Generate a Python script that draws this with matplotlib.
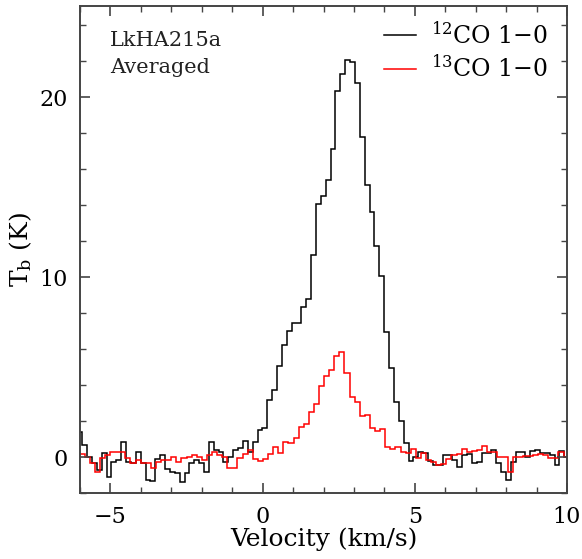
import numpy as np
import matplotlib
matplotlib.use("Agg")
import matplotlib.pyplot as plt

plt.rcParams["font.family"] = "DejaVu Serif"
plt.rcParams["mathtext.fontset"] = "dejavuserif"

# 12CO 1-0 spectrum: first channel edge, channel width (km/s), Tb per channel (K)
v0_12co = -6.087
dv_12co = 0.16
tb_12co = [
    1.41, 0.67, 0.02, -0.35, -0.72, 0.20, -1.09, -0.26, -0.17, 0.81,
    -0.26, -0.35, 0.30, -0.35, -1.28, -1.31, -0.13, 0.11, -0.67, -0.81,
    -0.91, -1.37, -0.91, -0.35, -0.17, -0.35, -0.81, 0.81, 0.39, 0.30,
    -0.26, 0.02, 0.39, 0.48, 0.91, 0.30, 0.85, 1.50, 1.59, 3.17,
    3.72, 5.06, 6.20, 7.00, 7.46, 7.46, 8.35, 8.76, 11.20, 14.05,
    14.50, 15.40, 17.10, 20.35, 21.30, 22.05, 21.96, 20.76, 17.76, 15.10,
    13.60, 11.70, 10.06, 6.93, 4.93, 3.07, 2.02, 0.80, -0.20, 0.00,
    0.26, 0.20, -0.20, -0.44, -0.44, 0.11, 0.11, -0.17, -0.54, 0.11,
    0.15, -0.35, -0.26, 0.24, 0.24, 0.39, -0.35, -0.81, -1.28, -0.26,
    0.26, 0.30, 0.02, 0.35, 0.39, 0.20, 0.20, 0.11, -0.44, 0.33,
    0.02,
]

# 13CO 1-0 spectrum
v0_13co = -6.016
dv_13co = 0.1674
tb_13co = [
    0.17, 0.02, -0.35, -0.81, -0.07, 0.11, 0.30, 0.30, 0.30, -0.07,
    -0.35, -0.17, -0.35, -0.35, -0.63, -0.26, -0.17, -0.17, 0.02, -0.26,
    -0.07, 0.02, 0.11, 0.02, -0.17, 0.11, 0.30, 0.11, 0.02, -0.63,
    -0.63, -0.07, 0.17, 0.39, -0.13, -0.20, -0.13, 0.15, 0.57, 0.20,
    0.82, 0.76, 1.04, 1.67, 1.82, 2.52, 2.94, 3.95, 4.48, 4.83,
    5.62, 5.85, 4.69, 3.35, 3.07, 2.28, 2.33, 1.59, 1.46, 1.57,
    0.55, 0.46, 0.54, 0.30, 0.24, 0.44, -0.07, 0.20, -0.17, -0.26,
    -0.44, -0.40, -0.13, 0.11, 0.17, 0.43, 0.30, 0.35, 0.39, 0.61,
    0.30, 0.30, 0.02, 0.02, -0.81, 0.02, 0.02, 0.06, 0.06, 0.11,
    0.17, 0.11, -0.07, -0.07, 0.30, 0.02,
]

edges_12co = v0_12co + dv_12co * np.arange(len(tb_12co) + 1)
edges_13co = v0_13co + dv_13co * np.arange(len(tb_13co) + 1)

fig = plt.figure(figsize=(5.82, 5.59), dpi=100)
ax = fig.add_axes([0.1375, 0.118, 0.8367, 0.871])

ax.stairs(tb_12co, edges_12co, baseline=None, color="black", lw=1.1,
          label=r"$^{12}$CO 1−0")
ax.stairs(tb_13co, edges_13co, baseline=None, color="red", lw=1.1,
          label=r"$^{13}$CO 1−0")

ax.set_xlim(-6, 10)
ax.set_ylim(-2.0, 25.05)
ax.set_xticks([-5, 0, 5, 10])
ax.set_xticks(np.arange(-6, 11, 1), minor=True)
ax.set_yticks([0, 10, 20])
ax.set_yticks(np.arange(-2, 25, 2), minor=True)
ax.tick_params(which="both", direction="in", top=True, right=True,
               color="#444444", labelsize=16)
ax.tick_params(which="major", length=7, width=1.2, pad=9)
ax.tick_params(which="minor", length=4.5, width=1.0)
for spine in ax.spines.values():
    spine.set_edgecolor("#444444")
    spine.set_linewidth(1.4)

ax.set_xlabel("Velocity (km/s)", fontsize=18, labelpad=0)
ax.set_ylabel(r"T$_{\rm b}$ (K)", fontsize=18, labelpad=4)

ax.text(0.062, 0.93, "LkHA215a", transform=ax.transAxes, fontsize=15,
        va="center", ha="left", color="#222222")
ax.text(0.062, 0.873, "Averaged", transform=ax.transAxes, fontsize=15,
        va="center", ha="left", color="#222222")

ax.legend(loc="upper right", bbox_to_anchor=(0.961, 0.968), frameon=False,
          fontsize=17, handlelength=1.36, handletextpad=0.64, labelspacing=0.3,
          borderaxespad=0, borderpad=0)

fig.savefig("out.png", dpi=100)
